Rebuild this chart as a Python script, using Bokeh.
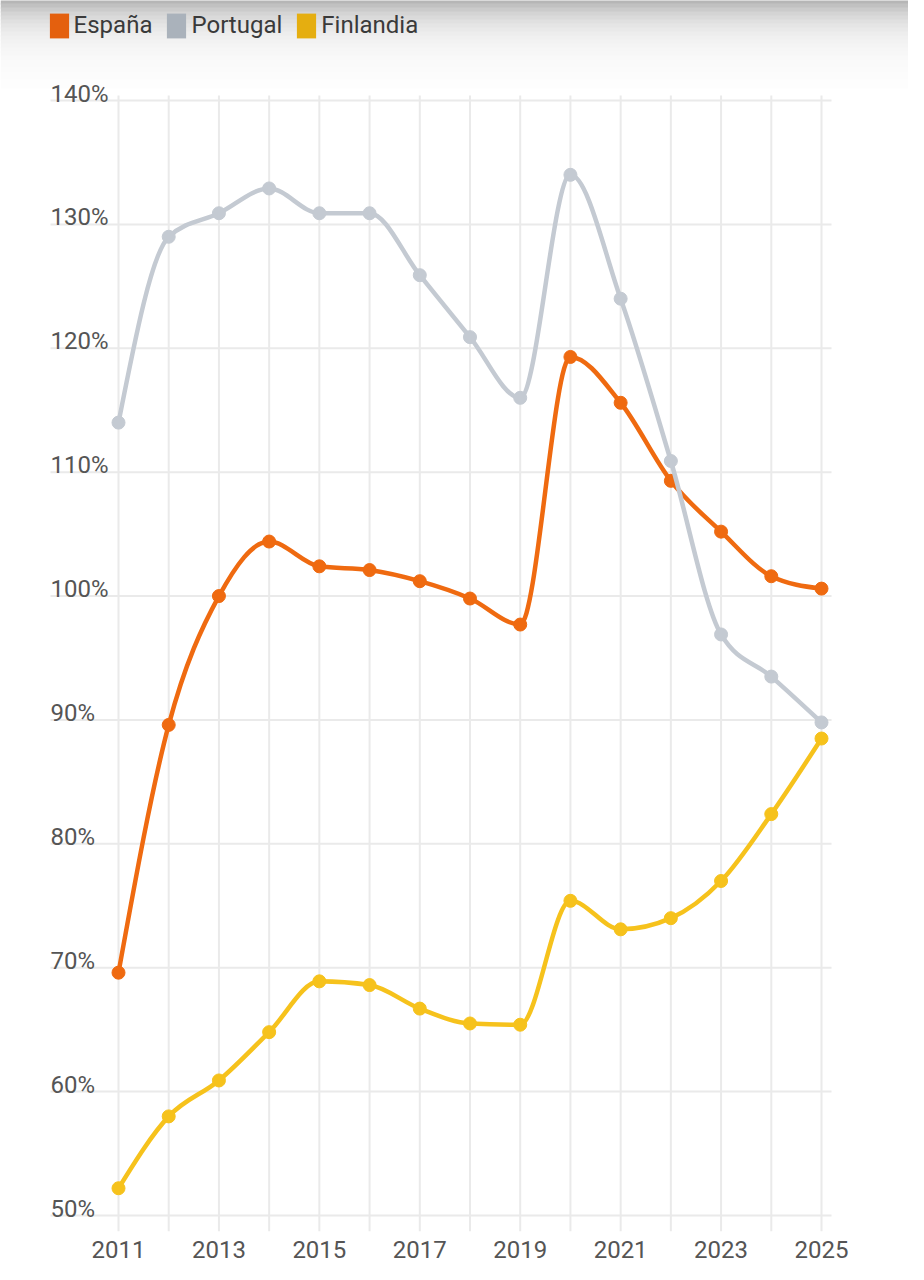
import math
import numpy as np
from bokeh.plotting import figure
from bokeh.models import (FixedTicker, Legend, LegendItem, BoxAnnotation,
                          ColumnDataSource, Range1d)
from bokeh.core.properties import value
from bokeh.embed import file_html
from bokeh.resources import INLINE

# ---------------- data ----------------
years = list(range(2011, 2026))
espana = [69.6, 89.6, 100.0, 104.4, 102.4, 102.1, 101.2, 99.8, 97.7,
          119.3, 115.6, 109.3, 105.2, 101.6, 100.6]
portugal = [114.0, 129.0, 130.9, 132.9, 130.9, 130.9, 125.9, 120.9, 116.0,
            134.0, 124.0, 110.9, 96.9, 93.5, 89.8]
finlandia = [52.2, 58.0, 60.9, 64.8, 68.9, 68.6, 66.7, 65.5, 65.4,
             75.4, 73.1, 74.0, 77.0, 82.4, 88.5]
series_names = ["España", "Portugal", "Finlandia"]
series_values = [espana, portugal, finlandia]
line_colors = ["#EF6A10", "#C4CAD2", "#F6C21C"]
legend_colors = ["#E4600E", "#AAB2BB", "#E5AE10"]
y_ticks = [50, 60, 70, 80, 90, 100, 110, 120, 130, 140]
y_tick_labels = [f"{t}%" for t in y_ticks]
x_ticks = [2011, 2013, 2015, 2017, 2019, 2021, 2023, 2025]
x_tick_labels = {t: str(t) for t in x_ticks}

# ---------------- layout ----------------
W, H = 908, 1264
FRAME_H = 1231
PX_X = 703 / 14.0          # px per year
PX_Y = 1115 / 90.0         # px per percentage point
X_START = 2011 - 118 / PX_X
X_END = X_START + W / PX_X
Y_END = 140 + 100 / PX_Y
Y_START = Y_END - FRAME_H / PX_Y

p = figure(width=W, height=H, output_backend="svg", toolbar_location=None,
           x_range=Range1d(X_START, X_END), y_range=Range1d(Y_START, Y_END),
           y_axis_location=None, x_axis_location="below",
           min_border_left=0, min_border_right=0, min_border_top=0,
           min_border_bottom=H - FRAME_H)
p.outline_line_color = None
p.grid.visible = False
p.background_fill_color = "white"
p.border_fill_color = "white"

# top shadow (screenshot look)
def ydata(page_y):
    return Y_END - (page_y - 8) / PX_Y

for top in range(8, 96, 4):
    mid = top + 2
    g = int(round(255 - 95 * math.exp(-(mid - 4) / 23.0)))
    g = min(255, g)
    col = "#%02x%02x%02x" % (g, g, g)
    p.add_layout(BoxAnnotation(top=ydata(top - 1), bottom=ydata(top + 4),
                               fill_color=col, fill_alpha=1.0,
                               line_color=None, level="underlay"))

# grid
grid_col = "#EAEAEA"
p.segment(x0=years, x1=years, y0=[Y_START] * len(years),
          y1=[140 + 5 / PX_Y] * len(years), line_color=grid_col, line_width=2)
p.segment(x0=[2011 - 68 / PX_X] * len(y_ticks), x1=[2025 + 10 / PX_X] * len(y_ticks),
          y0=y_ticks, y1=y_ticks, line_color=grid_col, line_width=2)

# monotone cubic (d3 monotoneX style) control points
def monotone_tangents(x, y):
    x = np.asarray(x, float); y = np.asarray(y, float)
    n = len(x)
    h = np.diff(x); s = np.diff(y) / h
    m = np.zeros(n)
    for i in range(1, n - 1):
        s0, s1 = s[i - 1], s[i]
        pp = (s0 * h[i] + s1 * h[i - 1]) / (h[i - 1] + h[i])
        m[i] = (np.sign(s0) + np.sign(s1)) * min(abs(s0), abs(s1), 0.5 * abs(pp))
    m[0] = (3 * s[0] - m[1]) / 2
    m[-1] = (3 * s[-1] - m[-2]) / 2
    return m

for name, vals, col in zip(series_names, series_values, line_colors):
    x = np.asarray(years, float); y = np.asarray(vals, float)
    m = monotone_tangents(x, y)
    h = np.diff(x)
    src = ColumnDataSource(dict(
        x0=x[:-1], y0=y[:-1], x1=x[1:], y1=y[1:],
        cx0=x[:-1] + h / 3, cy0=y[:-1] + m[:-1] * h / 3,
        cx1=x[1:] - h / 3, cy1=y[1:] - m[1:] * h / 3))
    p.bezier(x0="x0", y0="y0", x1="x1", y1="y1", cx0="cx0", cy0="cy0",
             cx1="cx1", cy1="cy1", source=src, line_color=col, line_width=4.5,
             line_cap="round")
    p.scatter(x=years, y=vals, size=13, fill_color=col, line_color=col)

# y tick labels (inside, above gridlines)
p.text(x=[2011 - 68 / PX_X] * len(y_ticks), y=y_ticks, text=y_tick_labels,
       text_font=value("Roboto"), text_font_size=value("24px"),
       text_color="#555555", text_align="left", text_baseline="alphabetic",
       y_offset=-7)

# x axis
ax = p.xaxis[0]
ax.ticker = FixedTicker(ticks=x_ticks)
ax.major_label_overrides = x_tick_labels
ax.axis_line_color = None
ax.major_tick_line_color = None
ax.minor_tick_line_color = None
ax.major_label_text_font = "Roboto"
ax.major_label_text_font_size = "24px"
ax.major_label_text_color = "#555555"
ax.major_label_standoff = 3

# legend (swatch-only renderers, nothing visible in the plot area)
items = []
for name, col in zip(series_names, legend_colors):
    r = p.rect(x=[np.nan], y=[np.nan], width=1, height=1,
               fill_color=col, line_color=None)
    items.append(LegendItem(label=name, renderers=[r]))
GH = 31
legend = Legend(items=items, orientation="horizontal",
                location=(46.6, FRAME_H - 9.5 - GH),
                glyph_width=24, glyph_height=GH, label_standoff=3, spacing=12,
                padding=0, margin=0, border_line_color=None,
                background_fill_alpha=0, label_text_font="Roboto",
                label_text_font_size="24px", label_text_color="#3a3a3a",
                label_height=GH)
p.add_layout(legend)

open("out.html", "w").write(file_html(p, INLINE))
